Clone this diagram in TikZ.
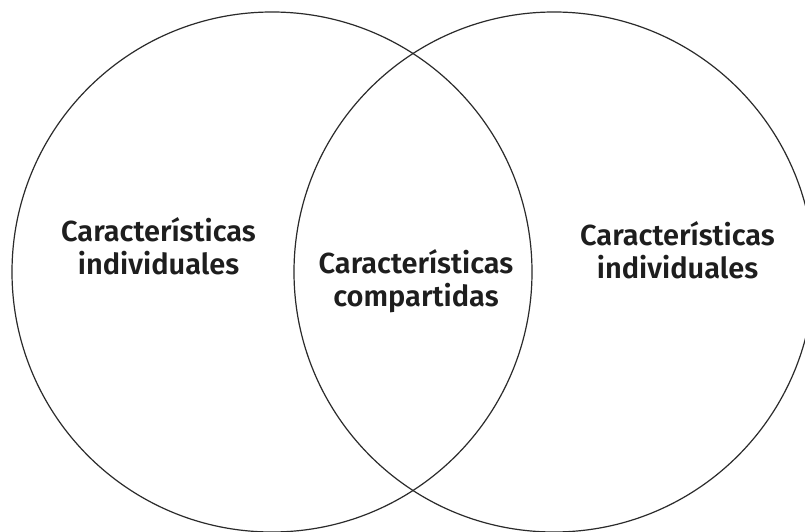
\documentclass[tikz,border=0pt]{standalone}
\usepackage{fontspec}
\newfontfamily\lblfont{Fira Sans SemiBold}
\definecolor{ln}{HTML}{2A2A2A}
\definecolor{tx}{HTML}{1E1E1E}
\begin{document}
\begin{tikzpicture}[x=1pt,y=-1pt,
  ring/.style={draw=ln,line width=1.2pt},
  lbl/.style={align=center,text=tx,inner sep=0pt,font=\lblfont\fontsize{29}{33}\selectfont}]
\useasboundingbox (0,0) rectangle (805,532);
\path[fill=white] (0,0) rectangle (805,532);
\coordinate (cl) at (272,272);
\coordinate (cr) at (554,272);
\draw[ring] (cl) circle[radius=260];
\draw[ring] (cr) circle[radius=260];
\node[lbl] (left) at (158.5,246) {Características\\individuales};
\node[lbl] (mid) at (416,281) {Características\\compartidas};
\node[lbl] (right) at (677.5,250) {Características\\individuales};
\end{tikzpicture}
\end{document}
